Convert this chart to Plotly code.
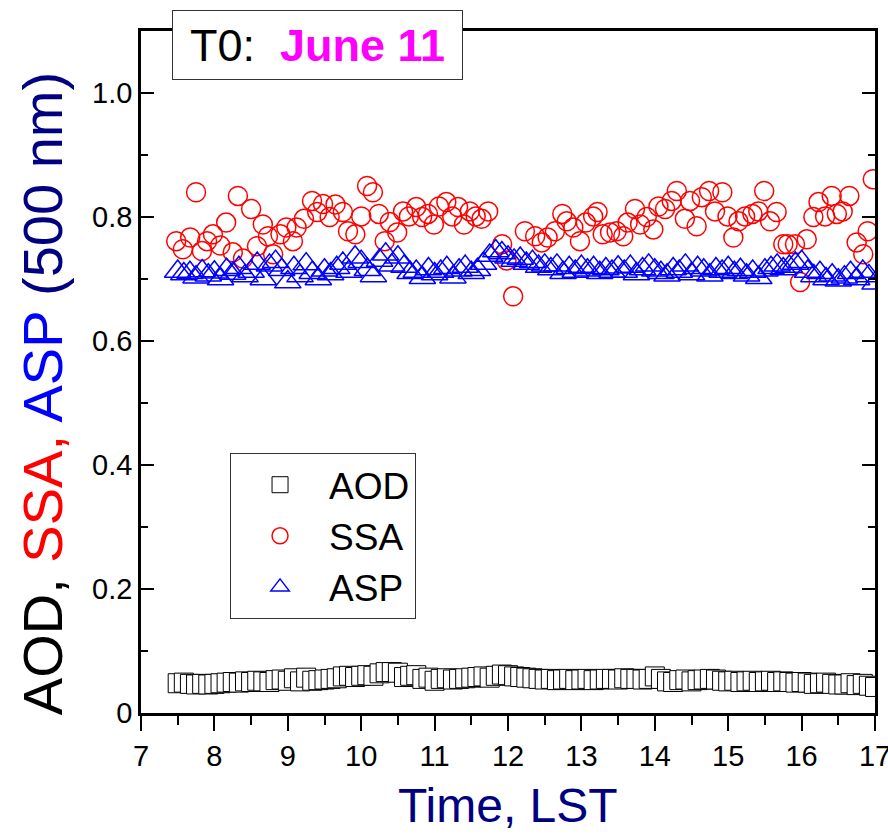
import plotly.graph_objects as go

# ---------------- data ----------------
# AOD and ASP sampled every 5 minutes from 07:30 to 17:00 LST
grid_start = 7.5
grid_step_h = 5 / 60
aod = [0.048, 0.049, 0.047, 0.046, 0.047, 0.046, 0.047,
       0.048, 0.049, 0.050, 0.049, 0.051, 0.050,
       0.052, 0.051, 0.050, 0.053, 0.054, 0.052,
       0.056, 0.051, 0.057, 0.052, 0.053, 0.054,
       0.055, 0.056, 0.059, 0.060, 0.058, 0.060,
       0.061, 0.060, 0.064, 0.066, 0.066, 0.065,
       0.058, 0.060, 0.061, 0.055, 0.057, 0.052,
       0.055, 0.056, 0.054, 0.055, 0.056, 0.057,
       0.058, 0.059, 0.057, 0.060, 0.062, 0.061,
       0.059, 0.058, 0.057, 0.056, 0.055, 0.054,
       0.055, 0.053, 0.054, 0.055, 0.053, 0.054,
       0.055, 0.053, 0.054, 0.055, 0.055, 0.054,
       0.056, 0.055, 0.055, 0.054, 0.055, 0.059,
       0.055, 0.051, 0.050, 0.053, 0.054, 0.051,
       0.053, 0.054, 0.055, 0.054, 0.052, 0.051,
       0.052, 0.050, 0.051, 0.052, 0.050, 0.051,
       0.052, 0.050, 0.051, 0.050, 0.049, 0.050,
       0.049, 0.047, 0.048, 0.049, 0.047, 0.046,
       0.046, 0.048, 0.045, 0.047, 0.044, 0.042]
asp = [0.712, 0.708, 0.710, 0.703, 0.713, 0.706, 0.711,
       0.700, 0.715, 0.709, 0.718, 0.705, 0.712,
       0.725, 0.700, 0.722, 0.728, 0.715, 0.695,
       0.718, 0.705, 0.724, 0.710, 0.700, 0.714,
       0.708, 0.718, 0.725, 0.712, 0.735, 0.728,
       0.715, 0.705, 0.730, 0.740, 0.722, 0.735,
       0.720, 0.710, 0.712, 0.702, 0.716, 0.708,
       0.712, 0.718, 0.703, 0.714, 0.720, 0.710,
       0.715, 0.725, 0.738, 0.745, 0.742, 0.735,
       0.730, 0.733, 0.725, 0.728, 0.720, 0.722,
       0.716, 0.722, 0.710, 0.718, 0.712, 0.720,
       0.714, 0.718, 0.710, 0.716, 0.712, 0.719,
       0.712, 0.720, 0.708, 0.716, 0.722, 0.714,
       0.710, 0.706, 0.716, 0.712, 0.722, 0.708,
       0.718, 0.714, 0.706, 0.716, 0.712, 0.718,
       0.710, 0.715, 0.706, 0.712, 0.702, 0.714,
       0.718, 0.722, 0.716, 0.720, 0.725, 0.728,
       0.712, 0.705, 0.710, 0.700, 0.706, 0.698,
       0.703, 0.710, 0.700, 0.712, 0.705, 0.693]
grid_time = [grid_start + k * grid_step_h for k in range(len(aod))]

# SSA retrievals (irregular times)
ssa_time = [7.48, 7.57, 7.67, 7.75, 7.83, 7.90, 7.98, 8.08, 8.16, 8.25,
            8.32, 8.39, 8.50, 8.58, 8.66, 8.73, 8.80, 8.90, 8.98, 9.07,
            9.12, 9.22, 9.33, 9.40, 9.48, 9.57, 9.65, 9.75, 9.82, 9.92,
            10.00, 10.08, 10.16, 10.24, 10.32, 10.39, 10.49, 10.57, 10.65, 10.75,
            10.83, 10.91, 10.99, 11.06, 11.16, 11.24, 11.32, 11.40, 11.48, 11.56,
            11.64, 11.73, 11.92, 11.98, 12.07, 12.23, 12.37, 12.46, 12.54, 12.64,
            12.74, 12.80, 12.89, 12.98, 13.06, 13.16, 13.22, 13.29, 13.39, 13.48,
            13.57, 13.63, 13.73, 13.80, 13.89, 13.98, 14.05, 14.14, 14.23, 14.30,
            14.41, 14.48, 14.57, 14.64, 14.74, 14.82, 14.92, 14.99, 15.07, 15.14,
            15.23, 15.33, 15.41, 15.49, 15.57, 15.66, 15.75, 15.81, 15.91, 15.98,
            16.07, 16.16, 16.23, 16.32, 16.41, 16.48, 16.56, 16.65, 16.75, 16.84,
            16.90, 16.97]
ssa = [0.761, 0.748, 0.767, 0.840, 0.745, 0.761, 0.772, 0.754, 0.791, 0.743,
       0.834, 0.733, 0.813, 0.753, 0.788, 0.769, 0.740, 0.772, 0.783, 0.761,
       0.783, 0.797, 0.826, 0.808, 0.821, 0.800, 0.820, 0.808, 0.777, 0.772,
       0.801, 0.850, 0.840, 0.805, 0.761, 0.792, 0.775, 0.809, 0.801, 0.816,
       0.800, 0.805, 0.788, 0.817, 0.824, 0.801, 0.816, 0.788, 0.809, 0.801,
       0.797, 0.809, 0.756, 0.730, 0.672, 0.777, 0.769, 0.759, 0.767, 0.777,
       0.805, 0.793, 0.783, 0.761, 0.791, 0.801, 0.808, 0.772, 0.775, 0.777,
       0.769, 0.791, 0.813, 0.788, 0.800, 0.780, 0.817, 0.813, 0.826, 0.842,
       0.797, 0.826, 0.785, 0.832, 0.842, 0.809, 0.840, 0.801, 0.767, 0.793,
       0.801, 0.805, 0.809, 0.842, 0.793, 0.808, 0.756, 0.756, 0.756, 0.695,
       0.764, 0.800, 0.824, 0.801, 0.834, 0.805, 0.809, 0.834, 0.759, 0.740,
       0.777, 0.861]

x_ticks = [7, 8, 9, 10, 11, 12, 13, 14, 15, 16, 17]
y_ticks = [0, 0.2, 0.4, 0.6, 0.8, 1.0]
y_tick_labels = ["0", "0.2", "0.4", "0.6", "0.8", "1.0"]

SANS = "Liberation Sans, Arial"

fig = go.Figure()
fig.add_trace(go.Scatter(
    x=grid_time, y=aod, mode="markers", name="AOD",
    marker=dict(symbol="square", size=19, color="white",
                line=dict(color="black", width=1)),
))
fig.add_trace(go.Scatter(
    x=ssa_time, y=ssa, mode="markers", name="SSA",
    marker=dict(symbol="circle-open", size=19, color="#FF0000",
                line=dict(color="#FF0000", width=1.5)),
))
fig.add_trace(go.Scatter(
    x=grid_time, y=asp, mode="markers", name="ASP",
    marker=dict(symbol="triangle-up-open", size=23, color="#0000FF",
                line=dict(color="#0000FF", width=1.5)),
))

fig.update_layout(
    width=888, height=836,
    margin=dict(l=141, r=13, t=31, b=123, autoexpand=False),
    paper_bgcolor="white", plot_bgcolor="white",
    font=dict(family=SANS, color="black"),
    showlegend=True,
    legend=dict(
        x=0.1213, y=0.381, xanchor="left", yanchor="top",
        bgcolor="white", bordercolor="#333333", borderwidth=1,
        font=dict(family=SANS, size=37, color="black"),
        itemsizing="trace", itemwidth=88, tracegroupgap=0,
    ),
    xaxis=dict(
        range=[7, 17], tickvals=x_ticks, ticks="outside", ticklen=15,
        tickwidth=2, tickcolor="black", ticklabeloverflow="allow",
        automargin=False,
        minor=dict(dtick=0.5, ticks="outside", ticklen=9, tickwidth=2,
                   tickcolor="black"),
        showline=True, linecolor="black", linewidth=2.5, mirror=True,
        showgrid=False, zeroline=False,
        tickfont=dict(family=SANS, size=29, color="black"),
    ),
    yaxis=dict(
        range=[0, 1.1], tickvals=y_ticks, ticktext=y_tick_labels,
        ticks="inside", ticklen=13, tickwidth=2, tickcolor="black",
        automargin=False,
        minor=dict(dtick=0.1, ticks="inside", ticklen=7, tickwidth=2,
                   tickcolor="black"),
        showline=True, linecolor="black", linewidth=2.5, mirror="ticks",
        showgrid=False, zeroline=False,
        tickfont=dict(family=SANS, size=29, color="black"),
    ),
)

# y-axis title in several colours
fig.add_annotation(
    xref="paper", yref="paper", x=-0.1349, y=0.469,
    xanchor="center", yanchor="middle", textangle=-90, showarrow=False,
    text=("<span style='color:#000000'>AOD, </span>"
          "<span style='color:#FF0000'>SSA, </span>"
          "<span style='color:#0000FF'>ASP </span>"
          "<span style='color:#000080'>(500 nm)</span>"),
    font=dict(family=SANS, size=56),
)
# x-axis title
fig.add_annotation(
    xref="paper", yref="paper", x=0.5, y=-0.135,
    xanchor="center", yanchor="middle", showarrow=False,
    text="Time, LST",
    font=dict(family=SANS, size=48, color="#000080"),
)
# boxed title
fig.add_annotation(
    xref="paper", yref="paper", x=0.2405, y=0.9795,
    xanchor="center", yanchor="middle", showarrow=False,
    text="T0:  <span style='color:#FF00FF'><b>June 11</b></span>",
    font=dict(family=SANS, size=45, color="black"),
    bgcolor="white", bordercolor="#333333", borderwidth=1, borderpad=0,
    width=289, height=68,
)

fig.write_html("out.html")
